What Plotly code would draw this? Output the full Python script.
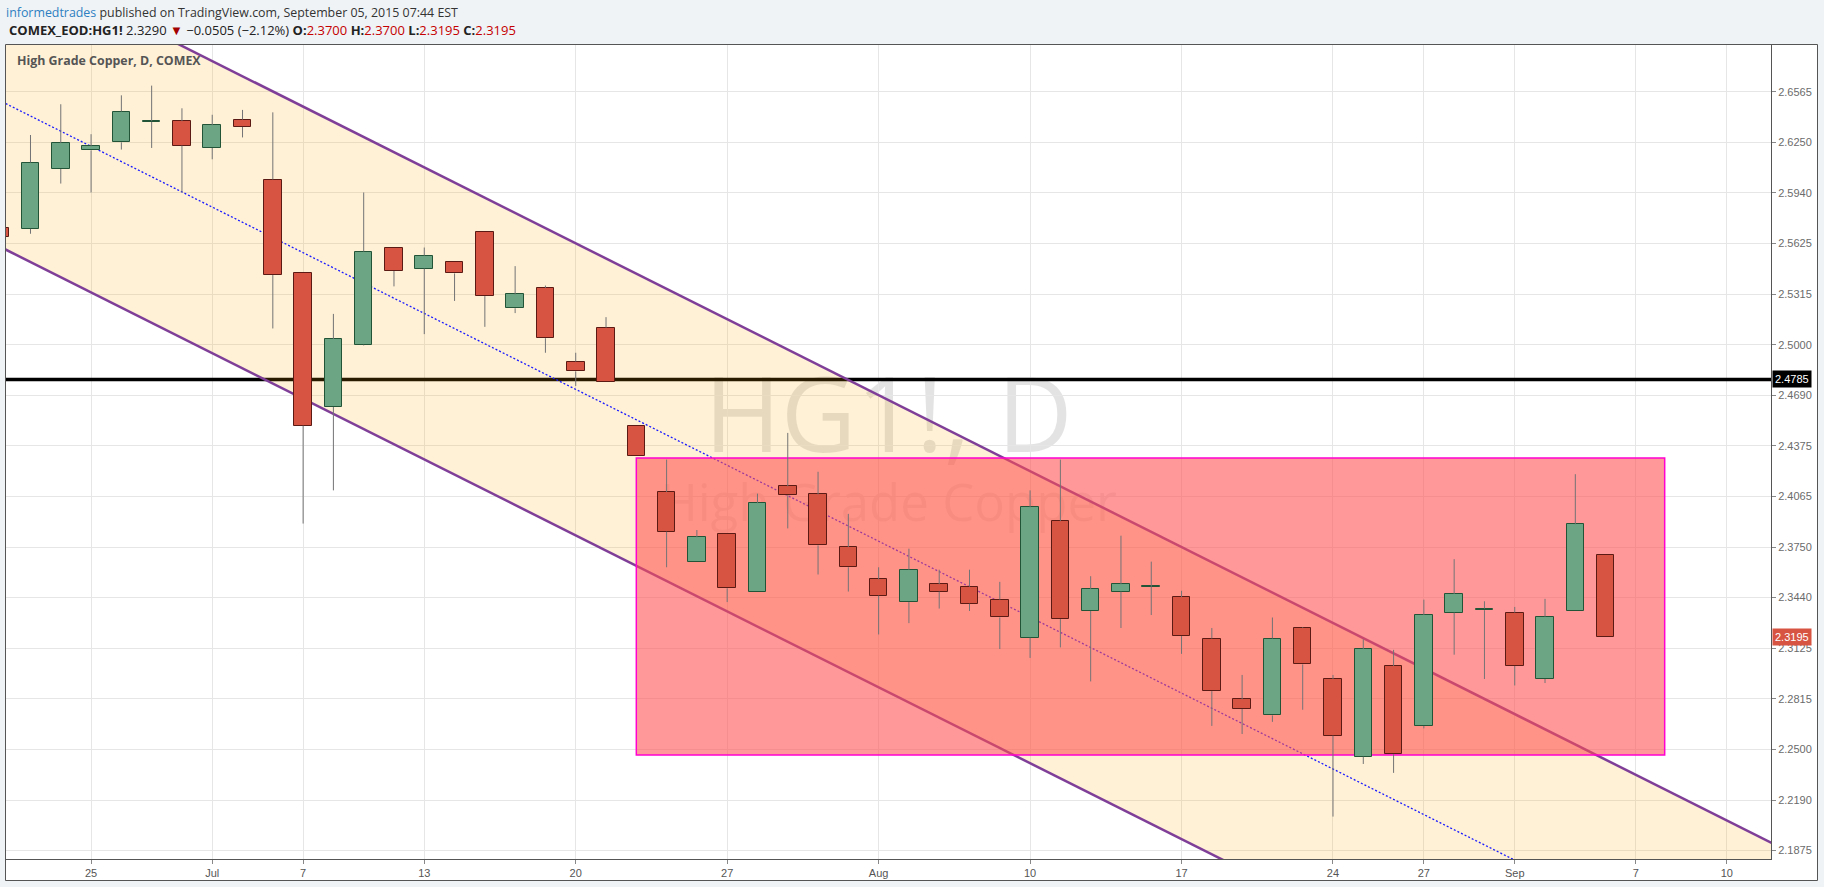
import plotly.graph_objects as go

# ---------------------------------------------------------------- data
# Daily COMEX high grade copper (HG1!), one entry per trading session.
sessions = [
    "Jun 22", "Jun 23", "Jun 24", "Jun 25", "Jun 26",
    "Jun 29", "Jun 30", "Jul 1", "Jul 2",
    "Jul 6", "Jul 7", "Jul 8", "Jul 9", "Jul 10",
    "Jul 13", "Jul 14", "Jul 15", "Jul 16", "Jul 17",
    "Jul 20", "Jul 21", "Jul 22", "Jul 23", "Jul 24",
    "Jul 27", "Jul 28", "Jul 29", "Jul 30", "Jul 31",
    "Aug 3", "Aug 4", "Aug 5", "Aug 6", "Aug 7",
    "Aug 10", "Aug 11", "Aug 12", "Aug 13", "Aug 14",
    "Aug 17", "Aug 18", "Aug 19", "Aug 20", "Aug 21",
    "Aug 24", "Aug 25", "Aug 26", "Aug 27", "Aug 28",
    "Aug 31", "Sep 1", "Sep 2", "Sep 3", "Sep 4",
]
opens = [
    2.5720, 2.5715, 2.6085, 2.6200, 2.6250,
    2.6375, 2.6380, 2.6215, 2.6390,
    2.6020, 2.5440, 2.4615, 2.5000, 2.5595,
    2.5470, 2.5510, 2.5695, 2.5225, 2.5350,
    2.4895, 2.5105, 2.4495, 2.4090, 2.3655,
    2.3830, 2.3470, 2.4125, 2.4075, 2.3750,
    2.3550, 2.3410, 2.3520, 2.3505, 2.3425,
    2.3190, 2.3910, 2.3355, 2.3475, 2.3505,
    2.3440, 2.3185, 2.2810, 2.2710, 2.3250,
    2.2935, 2.2455, 2.3015, 2.2645, 2.3345,
    2.3360, 2.3345, 2.2935, 2.3355, 2.3700,
]
highs = [
    2.5750, 2.6295, 2.6485, 2.6300, 2.6540,
    2.6600, 2.6460, 2.6420, 2.6450,
    2.6435, 2.5440, 2.5190, 2.5940, 2.5595,
    2.5600, 2.5510, 2.5695, 2.5485, 2.5365,
    2.4950, 2.5170, 2.4495, 2.4290, 2.3855,
    2.3830, 2.4080, 2.4455, 2.4215, 2.3955,
    2.3625, 2.3740, 2.3610, 2.3610, 2.3535,
    2.4100, 2.4290, 2.3570, 2.3820, 2.3660,
    2.3480, 2.3250, 2.2960, 2.3315, 2.3255,
    2.2960, 2.3180, 2.3115, 2.3425, 2.3675,
    2.3415, 2.3380, 2.3430, 2.4200, 2.3700,
]
lows = [
    2.5635, 2.5685, 2.5995, 2.5940, 2.6205,
    2.6215, 2.5940, 2.6145, 2.6280,
    2.5100, 2.3895, 2.4100, 2.4995, 2.5360,
    2.5065, 2.5270, 2.5110, 2.5195, 2.4950,
    2.4745, 2.4770, 2.4310, 2.3625, 2.3655,
    2.3410, 2.3470, 2.3865, 2.3580, 2.3475,
    2.3210, 2.3280, 2.3370, 2.3355, 2.3120,
    2.3065, 2.3130, 2.2920, 2.3250, 2.3330,
    2.3090, 2.2645, 2.2595, 2.2670, 2.2745,
    2.2085, 2.2410, 2.2355, 2.2630, 2.3085,
    2.2935, 2.2895, 2.2910, 2.3355, 2.3195,
]
closes = [
    2.5665, 2.6125, 2.6245, 2.6225, 2.6440,
    2.6380, 2.6230, 2.6355, 2.6345,
    2.5430, 2.4500, 2.5035, 2.5575, 2.5455,
    2.5550, 2.5440, 2.5300, 2.5310, 2.5040,
    2.4835, 2.4770, 2.4310, 2.3845, 2.3810,
    2.3495, 2.4020, 2.4070, 2.3760, 2.3625,
    2.3450, 2.3610, 2.3475, 2.3400, 2.3315,
    2.3995, 2.3305, 2.3490, 2.3520, 2.3505,
    2.3200, 2.2860, 2.2750, 2.3185, 2.3025,
    2.2585, 2.3120, 2.2470, 2.3330, 2.3460,
    2.3370, 2.3015, 2.3320, 2.3890, 2.3195,
]

# time axis: bar index of each labelled session (future bars included)
time_tick_index = [3, 7, 10, 14, 19, 24, 29, 34, 39, 44, 47, 50, 54, 57]
time_tick_text = ["25", "Jul", "7", "13", "20", "27", "Aug",
                  "10", "17", "24", "27", "Sep", "7", "10"]

# price axis grid (1/32 steps) and the rounded labels shown for them
price_tick_values = [2.1875, 2.21875, 2.25, 2.28125, 2.3125, 2.34375,
                     2.375, 2.40625, 2.4375, 2.46875, 2.5, 2.53125,
                     2.5625, 2.59375, 2.625, 2.65625]
price_tick_text = ["2.1875", "2.2190", "2.2500", "2.2815", "2.3125", "2.3440",
                   "2.3750", "2.4065", "2.4375", "2.4690", "2.5000", "2.5315",
                   "2.5625", "2.5940", "2.6250", "2.6565"]

# drawings
support_price = 2.4785
support_index = [-2, 62]
channel_anchor_index = [-1, 60]
channel_anchor_mid = [2.6600, 2.0878]
channel_half_width = 0.0902
zone_index = [21, 54.95]
zone_price = [2.2465, 2.4300]

# ---------------------------------------------------------------- styles
UP_FILL, UP_EDGE = "#6ba583", "#225437"
DN_FILL, DN_EDGE = "#d75442", "#5b1a13"
WICK = "#737375"
GRID = "#e6e6e6"
FRAME = "#555555"
TEXT = "#555555"
CHANNEL_FILL = "rgba(255,166,0,0.16)"
CHANNEL_LINE = "#7f3f98"
MID_LINE = "#1a1aff"
ZONE_FILL = "rgba(255,80,80,0.58)"
ZONE_EDGE = "#ff00d0"
PAGE_BG = "#f0f3f6"

W, H = 1824, 887
ML, MR, MT, MB = 6, 53, 44, 28
PW, PH = W - ML - MR, H - MT - MB


def px_x(px):
    return (px - ML) / PW


def px_y(py):
    return (H - MB - py) / PH


n = len(closes)
idx = list(range(n))
is_up = [c >= o for o, c in zip(opens, closes)]
body_lo = [min(o, c) for o, c in zip(opens, closes)]
body_hi = [max(o, c) for o, c in zip(opens, closes)]
# keep flat sessions visible as a thin line
body_h = [max(h - l, 0.0003) for h, l in zip(body_hi, body_lo)]

wx, wy = [], []
for i in idx:
    wx += [i, i, None, i, i, None]
    wy += [highs[i], body_hi[i], None, body_lo[i], lows[i], None]

fig = go.Figure()
fig.add_trace(go.Bar(
    x=idx, y=body_h, base=body_lo, width=0.58,
    marker=dict(color=[UP_FILL if u else DN_FILL for u in is_up],
                line=dict(color=[UP_EDGE if u else DN_EDGE for u in is_up], width=1)),
    hoverinfo="skip", showlegend=False,
))
fig.add_trace(go.Scatter(
    x=wx, y=wy, mode="lines", line=dict(color=WICK, width=1),
    hoverinfo="skip", showlegend=False,
))

# ---------------------------------------------------------------- drawings
shapes = []
# chart pane background + watermark (lowest layer)
shapes.append(dict(type="rect", xref="paper", yref="paper", layer="below",
                   x0=px_x(5), x1=px_x(1817), y0=px_y(880), y1=px_y(44),
                   fillcolor="white", line=dict(width=0)))
shapes.append(dict(type="rect", xref="paper", yref="paper", layer="below",
                   x0=0.2, x1=0.8, y0=px_y(470), y1=px_y(366),
                   fillcolor="rgba(0,0,0,0)", line=dict(width=0),
                   label=dict(text="HG1!, D", textposition="middle center",
                              font=dict(family="Open Sans", size=104,
                                        color="rgba(0,0,0,0.11)"))))
shapes.append(dict(type="rect", xref="paper", yref="paper", layer="below",
                   x0=0.2, x1=0.8, y0=px_y(530), y1=px_y(480),
                   fillcolor="rgba(0,0,0,0)", line=dict(width=0),
                   label=dict(text="High Grade Copper", textposition="middle center",
                              font=dict(family="Open Sans", size=51,
                                        color="rgba(0,0,0,0.08)"))))

# horizontal level
shapes.append(dict(type="line", xref="x", yref="y", layer="between",
                   x0=support_index[0], x1=support_index[1],
                   y0=support_price, y1=support_price,
                   line=dict(color="black", width=3.5)))

# parallel channel
cx0, cx1 = channel_anchor_index
m0, m1 = channel_anchor_mid
u0, u1 = m0 + channel_half_width, m1 + channel_half_width
l0, l1 = m0 - channel_half_width, m1 - channel_half_width
shapes.append(dict(type="path", xref="x", yref="y", layer="between",
                   path=f"M {cx0},{u0} L {cx1},{u1} L {cx1},{l1} L {cx0},{l0} Z",
                   fillcolor=CHANNEL_FILL, line=dict(width=0)))
for a, b in ((u0, u1), (l0, l1)):
    shapes.append(dict(type="line", xref="x", yref="y", layer="between",
                       x0=cx0, x1=cx1, y0=a, y1=b,
                       line=dict(color=CHANNEL_LINE, width=2.5)))
shapes.append(dict(type="line", xref="x", yref="y", layer="between",
                   x0=cx0, x1=cx1, y0=m0, y1=m1,
                   line=dict(color=MID_LINE, width=1.3, dash="2px,2px")))

# price zone
shapes.append(dict(type="rect", xref="x", yref="y", layer="between",
                   x0=zone_index[0], x1=zone_index[1],
                   y0=zone_price[0], y1=zone_price[1],
                   fillcolor=ZONE_FILL, line=dict(color=ZONE_EDGE, width=1.5)))

# pane frame
shapes.append(dict(type="rect", xref="paper", yref="paper", layer="above",
                   x0=px_x(5.5), x1=px_x(1817.5), y0=px_y(880.5), y1=px_y(44.5),
                   fillcolor="rgba(0,0,0,0)", line=dict(color=FRAME, width=1)))

# ---------------------------------------------------------------- text
annotations = [
    dict(xref="paper", yref="paper", x=px_x(4), y=px_y(12), xanchor="left",
         yanchor="middle", showarrow=False,
         text="<span style='color:#2d7fc1'>informedtrades</span> published on "
              "TradingView.com, September 05, 2015 07:44 EST",
         font=dict(family="Open Sans", size=12.4, color="#333333")),
    dict(xref="paper", yref="paper", x=px_x(7), y=px_y(29.5), xanchor="left",
         yanchor="middle", showarrow=False,
         text="<b>COMEX_EOD:HG1!</b> 2.3290 <span style='color:#a30000'>▼</span>"
              " −0.0505 (−2.12%) <b>O:</b><span style='color:#c40000'>2.3700</span>"
              " <b>H:</b><span style='color:#c40000'>2.3700</span>"
              " <b>L:</b><span style='color:#c40000'>2.3195</span>"
              " <b>C:</b><span style='color:#c40000'>2.3195</span>",
         font=dict(family="Open Sans", size=13, color="#222222")),
    dict(xref="paper", yref="paper", x=px_x(15), y=px_y(60.5), xanchor="left",
         yanchor="middle", showarrow=False,
         text="<b>High Grade Copper, D, COMEX</b>",
         font=dict(family="Open Sans", size=12.4, color="#555555")),
    dict(xref="paper", yref="y", x=1, y=support_price, xanchor="left",
         yanchor="middle", showarrow=False, text=f"{support_price:.4f}",
         bgcolor="black", borderpad=2, xshift=1,
         font=dict(family="Liberation Sans", size=11, color="white")),
    dict(xref="paper", yref="y", x=1, y=closes[-1], xanchor="left",
         yanchor="middle", showarrow=False, text=f"{closes[-1]:.4f}",
         bgcolor=DN_FILL, borderpad=2, xshift=1,
         font=dict(family="Liberation Sans", size=11, color="white")),
]

fig.update_layout(
    width=W, height=H,
    margin=dict(l=ML, r=MR, t=MT, b=MB, pad=0),
    paper_bgcolor=PAGE_BG, plot_bgcolor="white",
    showlegend=False, bargap=0,
    shapes=shapes, annotations=annotations,
    xaxis=dict(range=[0.1915, 58.46], tickvals=time_tick_index,
               ticktext=time_tick_text, showgrid=True, gridcolor=GRID,
               gridwidth=1, zeroline=False, showline=True, linecolor=FRAME,
               linewidth=1, ticks="outside", ticklen=4, tickcolor="#888888",
               tickfont=dict(family="Liberation Sans", size=11, color=TEXT),
               fixedrange=True),
    yaxis=dict(range=[2.18231, 2.68571], side="right", tickvals=price_tick_values,
               ticktext=price_tick_text, showgrid=True, gridcolor=GRID,
               gridwidth=1, zeroline=False, showline=True, linecolor=FRAME,
               linewidth=1, ticks="outside", ticklen=4, tickcolor="#888888",
               tickfont=dict(family="Liberation Sans", size=11, color="#6b6b6b"),
               fixedrange=True),
)

fig.write_html("out.html")
